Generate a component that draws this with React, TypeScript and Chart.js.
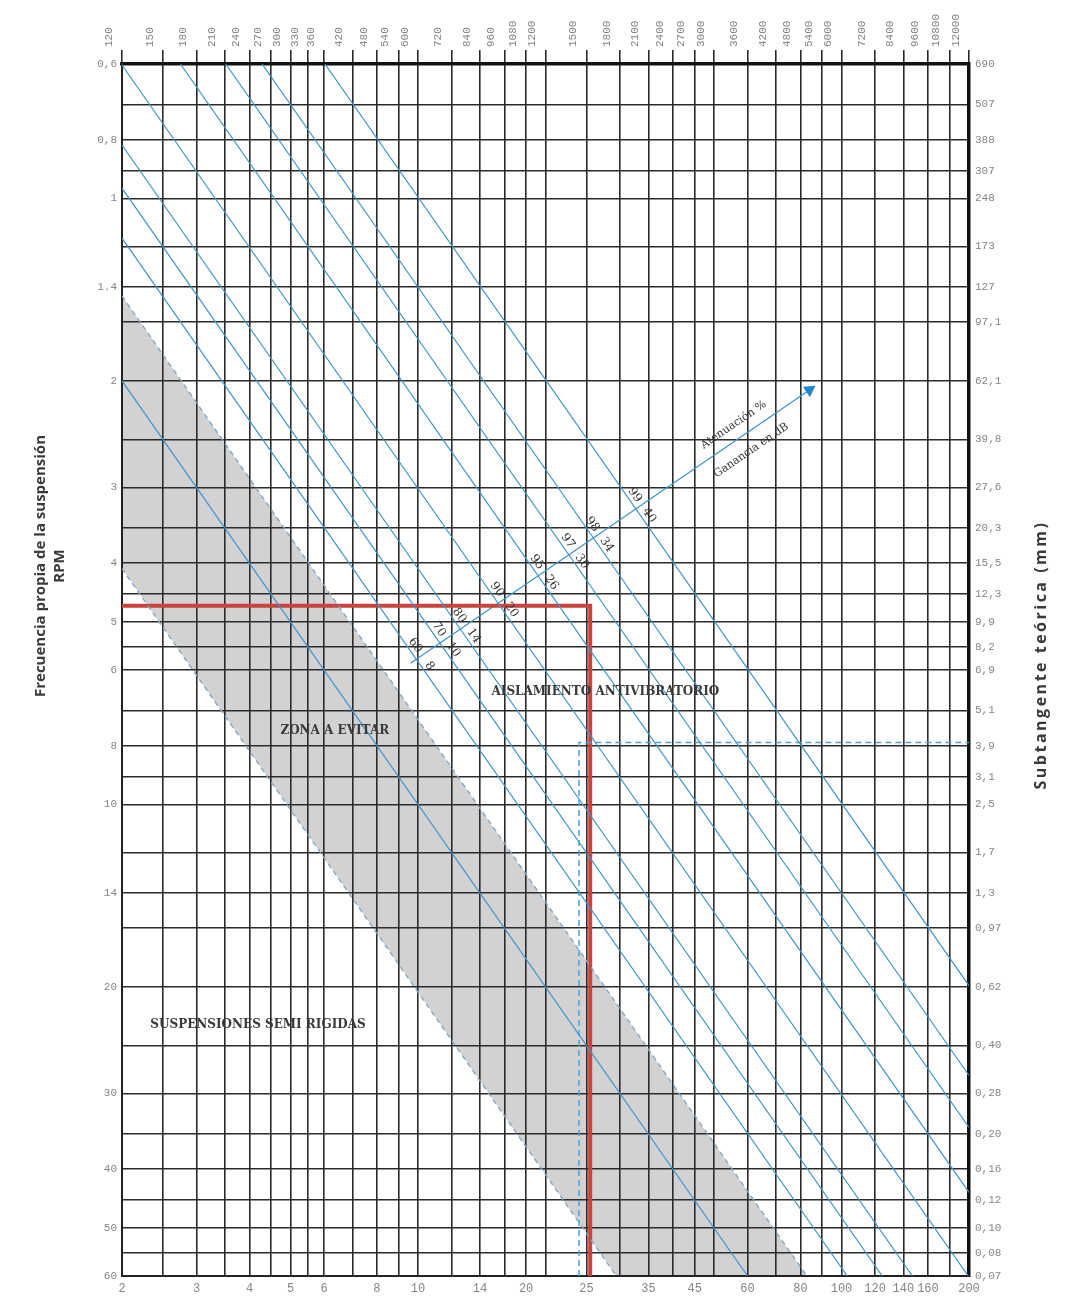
import React, { useEffect, useRef } from "react";
import { Chart, registerables } from "chart.js";

Chart.register(...registerables);

const W = 1072;
const H = 1302;

// Axis ranges
const FD_MIN = 2; // disturbing frequency (bottom)
const FD_MAX = 200;
const FN_MIN = 0.6; // natural frequency (left)
const FN_MAX = 60;
const RPM_MIN = 120;
const RPM_MAX = 12000;

// Vertical grid (bottom axis values) and top RPM ticks
const freqGrid = [2, 2.5, 3, 3.5, 4, 4.5, 5, 5.5, 6, 7, 8, 9, 10, 12, 14, 16, 18, 20, 25, 30, 35, 40, 45, 50, 60, 70, 80, 90, 100, 120, 140, 160, 180, 200];
const rpmTicks = [120, 150, 180, 210, 240, 270, 300, 330, 360, 420, 480, 540, 600, 720, 840, 960, 1080, 1200, 1500, 1800, 2100, 2400, 2700, 3000, 3600, 4200, 4800, 5400, 6000, 7200, 8400, 9600, 10800, 12000];
const bottomLabelPos = [2, 3, 4, 5, 6, 8, 10, 14, 18, 25, 35, 45, 60, 80, 100, 120, 140, 160, 200];
const bottomLabels = ["2", "3", "4", "5", "6", "8", "10", "14", "20", "25", "35", "45", "60", "80", "100", "120", "140", "160", "200"];

// Horizontal grid (left axis values), left labels and right (static deflection) labels
const naturalGrid = [0.6, 0.7, 0.8, 0.9, 1, 1.2, 1.4, 1.6, 2, 2.5, 3, 3.5, 4, 4.5, 5, 5.5, 6, 7, 8, 9, 10, 12, 14, 16, 20, 25, 30, 35, 40, 45, 50, 55, 60];
const leftLabelPos = [0.6, 0.8, 1, 1.4, 2, 3, 4, 5, 6, 8, 10, 14, 20, 30, 40, 50, 60];
const leftLabels = ["0,6", "0,8", "1", "1.4", "2", "3", "4", "5", "6", "8", "10", "14", "20", "30", "40", "50", "60"];
const deflectionLabels = ["690", "507", "388", "307", "248", "173", "127", "97,1", "62,1", "39,8", "27,6", "20,3", "15,5", "12,3", "9,9", "8,2", "6,9", "5,1", "3,9", "3,1", "2,5", "1,7", "1,3", "0,97", "0,62", "0,40", "0,28", "0,20", "0,16", "0,12", "0,10", "0,08", "0,07"];

// Frequency-ratio lines (disturbing / natural)
const isolationRatios = [1.72, 2.08, 2.45, 3.32, 4.58, 5.86, 7.14, 10.05];
const attenuationPct = ["60", "70", "80", "90", "95", "97", "98", "99"];
const gainDb = ["8", "10", "14", "20", "26", "30", "34", "40"];
const resonanceRatios = [1.0];
const zoneLowerRatio = 0.49;
const zoneUpperRatio = 1.38;

// Worked example (red) and secondary example (dashed blue)
const redFd = 25.5;
const redFn = 4.7;
const dashFd = 24;
const dashFn = 7.9;

// Arrow (attenuation / gain direction)
const arrowFd = [9.6, 84];
const arrowFn = [5.85, 2.07];

// Region captions
const zoneTexts = ["ZONA A EVITAR", "AISLAMIENTO ANTIVIBRATORIO", "SUSPENSIONES SEMI RIGIDAS"];
const zoneTextFd = [6.36, 27.7, 4.19];
const zoneTextFn = [7.55, 6.51, 23.1];

const leftTitle = ["Frecuencia propia de la suspensión", "RPM"];
const rightTitle = "Subtangente teórica (mm)";
const arrowTitles = ["Atenuación %", "Ganancia en dB"];

const BLUE = "#3f95cd";
const GRID = "#2b2b2b";
const TICK_COLOR = "#858585";

function ratioLine(r: number) {
  const x0 = Math.max(FD_MIN, FN_MIN * r);
  const x1 = Math.min(FD_MAX, FN_MAX * r);
  return [
    { x: x0, y: x0 / r },
    { x: x1, y: x1 / r },
  ];
}

const overlayPlugin = {
  id: "overlay",
  beforeDraw(chart: any) {
    const { ctx, scales } = chart;
    const x = scales.x;
    const y = scales.y;
    const up = ratioLine(zoneUpperRatio);
    const lo = ratioLine(zoneLowerRatio);
    const poly = [up[0], up[1], lo[1], lo[0]];
    ctx.save();
    ctx.beginPath();
    poly.forEach((p, i) => {
      const px = x.getPixelForValue(p.x);
      const py = y.getPixelForValue(p.y);
      if (i === 0) ctx.moveTo(px, py);
      else ctx.lineTo(px, py);
    });
    ctx.closePath();
    ctx.fillStyle = "#d2d2d2";
    ctx.fill();
    ctx.restore();
  },
  afterDatasetsDraw(chart: any) {
    const { ctx, scales } = chart;
    const x = scales.x;
    const y = scales.y;
    const px = (p: { x: number; y: number }) => ({ x: x.getPixelForValue(p.x), y: y.getPixelForValue(p.y) });

    // Region captions
    ctx.save();
    ctx.fillStyle = "#3a3a3a";
    ctx.font = "bold 12px 'DejaVu Serif', serif";
    ctx.textAlign = "center";
    ctx.textBaseline = "middle";
    zoneTexts.forEach((t, i) => {
      const p = px({ x: zoneTextFd[i], y: zoneTextFn[i] });
      ctx.fillText(t, p.x, p.y);
    });
    ctx.restore();

    // Arrow geometry in pixels
    const A = px({ x: arrowFd[0], y: arrowFn[0] });
    const B = px({ x: arrowFd[1], y: arrowFn[1] });
    const len = Math.hypot(B.x - A.x, B.y - A.y);
    const n = { x: (B.x - A.x) / len, y: (B.y - A.y) / len };
    const upv = { x: n.y, y: -n.x };
    const arrowAngle = Math.atan2(n.y, n.x);

    // Labels at crossings
    ctx.save();
    ctx.fillStyle = "#333";
    ctx.font = "12px 'DejaVu Serif', serif";
    ctx.textAlign = "center";
    ctx.textBaseline = "middle";
    isolationRatios.forEach((r, i) => {
      const seg = ratioLine(r);
      const P0 = px(seg[0]);
      const P1 = px(seg[1]);
      const dl = Math.hypot(P1.x - P0.x, P1.y - P0.y);
      const d = { x: (P1.x - P0.x) / dl, y: (P1.y - P0.y) / dl };
      const det = n.x * -d.y - n.y * -d.x;
      const rx = P0.x - A.x;
      const ry = P0.y - A.y;
      const t = (rx * -d.y - ry * -d.x) / det;
      const C = { x: A.x + n.x * t, y: A.y + n.y * t };
      const ang = Math.atan2(d.y, d.x);
      const shift = 7;
      const a = { x: C.x + n.x * shift - d.x * 12, y: C.y + n.y * shift - d.y * 12 };
      const b = { x: C.x + n.x * shift + d.x * 13, y: C.y + n.y * shift + d.y * 13 };
      [[a, attenuationPct[i]], [b, gainDb[i]]].forEach(([p, txt]: any) => {
        ctx.save();
        ctx.translate(p.x, p.y);
        ctx.rotate(ang);
        ctx.fillText(txt, 0, 0);
        ctx.restore();
      });
    });
    ctx.restore();

    // Arrow titles
    ctx.save();
    ctx.fillStyle = "#333";
    ctx.font = "11px 'DejaVu Serif', serif";
    ctx.textAlign = "center";
    ctx.textBaseline = "middle";
    const tpos = len * 0.83;
    const T1 = { x: A.x + n.x * tpos + upv.x * 14, y: A.y + n.y * tpos + upv.y * 14 };
    const T2 = { x: A.x + n.x * tpos - upv.x * 17, y: A.y + n.y * tpos - upv.y * 17 };
    [[T1, arrowTitles[0]], [T2, arrowTitles[1]]].forEach(([p, txt]: any) => {
      ctx.save();
      ctx.translate(p.x, p.y);
      ctx.rotate(arrowAngle);
      ctx.fillText(txt, 0, 0);
      ctx.restore();
    });
    ctx.restore();
  },
  afterDraw(chart: any) {
    const { ctx } = chart;
    ctx.save();
    ctx.fillStyle = "#3a3a3a";
    ctx.textAlign = "center";
    ctx.textBaseline = "middle";
    ctx.font = "bold 15px 'Open Sans', sans-serif";
    ctx.translate(41, 566);
    ctx.rotate(-Math.PI / 2);
    ctx.fillText(leftTitle[0], 0, 0);
    ctx.fillText(leftTitle[1], 0, 19);
    ctx.restore();

    ctx.save();
    ctx.fillStyle = "#3a3a3a";
    ctx.textAlign = "center";
    ctx.textBaseline = "middle";
    ctx.font = "bold 16px 'Open Sans', sans-serif";
    try {
      (ctx as any).letterSpacing = "2.5px";
    } catch (e) {}
    ctx.translate(1041, 655);
    ctx.rotate(-Math.PI / 2);
    ctx.fillText(rightTitle, 0, 0);
    ctx.restore();
  },
};

export default function App() {
  const ref = useRef<HTMLCanvasElement>(null);

  useEffect(() => {
    const canvas = ref.current;
    if (!canvas) return;

    const lineDs = (pts: any[], color: string, width: number, dash: number[] = []) => ({
      data: pts,
      borderColor: color,
      borderWidth: width,
      borderDash: dash,
      pointRadius: 0,
      fill: false,
      tension: 0,
    });

    const datasets: any[] = [];
    isolationRatios.forEach((r) => datasets.push(lineDs(ratioLine(r), BLUE, 1.2)));
    resonanceRatios.forEach((r) => datasets.push(lineDs(ratioLine(r), BLUE, 1.2)));
    datasets.push(lineDs(ratioLine(zoneUpperRatio), "#7fa9cc", 1.4, [5, 4]));
    datasets.push(lineDs(ratioLine(zoneLowerRatio), "#7fa9cc", 1.4, [5, 4]));
    datasets.push(
      lineDs(
        [
          { x: dashFd, y: FN_MAX },
          { x: dashFd, y: dashFn },
          { x: FD_MAX, y: dashFn },
        ],
        "#4fa0d6",
        1.5,
        [6, 4]
      )
    );
    datasets.push(
      lineDs(
        [
          { x: FD_MIN, y: redFn },
          { x: redFd, y: redFn },
          { x: redFd, y: FN_MAX },
        ],
        "#c8443c",
        4
      )
    );
    datasets.push({
      data: [
        { x: arrowFd[0], y: arrowFn[0] },
        { x: arrowFd[1], y: arrowFn[1] },
      ],
      borderColor: BLUE,
      borderWidth: 1.3,
      pointRadius: [0, 6],
      pointStyle: "triangle",
      pointRotation: [0, 56],
      pointBackgroundColor: "#1f88d0",
      pointBorderColor: "#1f88d0",
      fill: false,
    });

    const tickFont = { family: "'Liberation Mono', monospace", size: 11 };

    const chart = new Chart(canvas, {
      type: "line",
      data: { datasets },
      plugins: [overlayPlugin],
      options: {
        animation: false,
        responsive: false,
        devicePixelRatio: 1,
        layout: { padding: 0 },
        events: [],
        plugins: { legend: { display: false }, tooltip: { enabled: false } },
        scales: {
          x: {
            type: "logarithmic",
            position: "bottom",
            min: FD_MIN,
            max: FD_MAX,
            afterBuildTicks: (s: any) => {
              s.ticks = freqGrid.map((v) => ({ value: v }));
            },
            afterFit: (s: any) => {
              s.height = H - 1276;
            },
            grid: { color: GRID, lineWidth: 1.6, drawTicks: false },
            border: { display: true, color: "#222", width: 2 },
            ticks: {
              autoSkip: false,
              maxRotation: 0,
              minRotation: 0,
              padding: 6,
              color: TICK_COLOR,
              font: { ...tickFont, size: 12 },
              callback: (v: any) => {
                const i = bottomLabelPos.indexOf(Number(v));
                return i >= 0 ? bottomLabels[i] : "";
              },
            },
          },
          x2: {
            type: "logarithmic",
            position: "top",
            min: RPM_MIN,
            max: RPM_MAX,
            afterBuildTicks: (s: any) => {
              s.ticks = rpmTicks.map((v) => ({ value: v }));
            },
            afterFit: (s: any) => {
              s.height = 64;
            },
            grid: { color: GRID, lineWidth: 1.6, drawOnChartArea: false, drawTicks: true, tickLength: 14 },
            border: { display: true, color: "#111", width: 3.5 },
            ticks: {
              autoSkip: false,
              minRotation: 90,
              maxRotation: 90,
              padding: 3,
              color: TICK_COLOR,
              font: { ...tickFont, size: 11 },
              callback: (v: any) => String(v),
            },
          },
          y: {
            type: "logarithmic",
            position: "left",
            reverse: true,
            min: FN_MIN,
            max: FN_MAX,
            afterBuildTicks: (s: any) => {
              s.ticks = naturalGrid.map((v) => ({ value: v }));
            },
            afterFit: (s: any) => {
              s.width = 122;
            },
            grid: { color: GRID, lineWidth: 1.6, drawTicks: false },
            border: { display: true, color: "#222", width: 2 },
            ticks: {
              autoSkip: false,
              padding: 5,
              color: TICK_COLOR,
              font: tickFont,
              callback: (v: any) => {
                const i = leftLabelPos.indexOf(Number(v));
                return i >= 0 ? leftLabels[i] : "";
              },
            },
          },
          y2: {
            type: "logarithmic",
            position: "right",
            reverse: true,
            min: FN_MIN,
            max: FN_MAX,
            afterBuildTicks: (s: any) => {
              s.ticks = naturalGrid.map((v) => ({ value: v }));
            },
            afterFit: (s: any) => {
              s.width = W - 969;
            },
            grid: { display: false, drawOnChartArea: false, drawTicks: false },
            border: { display: true, color: "#111", width: 3.5 },
            ticks: {
              autoSkip: false,
              padding: 6,
              color: TICK_COLOR,
              font: tickFont,
              callback: (v: any) => {
                const i = naturalGrid.indexOf(Number(v));
                return i >= 0 ? deflectionLabels[i] : "";
              },
            },
          },
        },
      } as any,
    });

    return () => chart.destroy();
  }, []);

  return (
    <div style={{ position: "absolute", left: 0, top: 0, width: W, height: H, background: "#fff" }}>
      <canvas ref={ref} width={W} height={H} style={{ display: "block", width: W, height: H }} />
    </div>
  );
}
